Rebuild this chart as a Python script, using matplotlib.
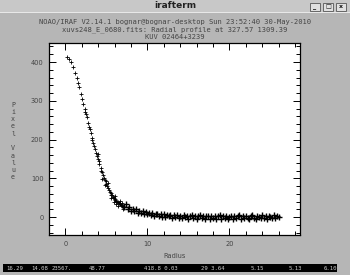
import matplotlib
matplotlib.use("Agg")
import matplotlib.pyplot as plt
from matplotlib.patches import Rectangle
from matplotlib.ticker import MultipleLocator

W, H = 350, 275

# radial profile, core part (radius, pixel value)
core_r = [0.17, 0.45, 0.7, 0.95, 1.2, 1.4, 1.55, 1.7, 1.9, 2.05, 2.2, 2.35, 2.5, 2.6,
          2.75, 2.9, 3.0, 3.1, 3.25, 3.4, 3.5, 3.6, 3.75, 3.85, 3.95, 4.05, 4.15, 4.3,
          4.4, 4.5, 4.6, 4.7, 4.8, 4.9, 5.0, 5.1, 5.2, 5.3, 5.4, 5.5, 5.6, 5.7, 5.8,
          5.9, 6.0, 6.1, 6.2, 6.3, 6.4, 6.5, 6.6, 6.7, 6.8, 6.9, 7.0,
          4.0, 4.5, 5.2, 5.6, 6.0, 6.2, 6.6, 7.0, 3.3, 2.4, 4.8, 5.9, 6.4, 6.9]
core_v = [414, 408, 400, 388, 372, 358, 346, 335, 318, 305, 292, 280, 266, 258,
          244, 232, 226, 216, 205, 190, 184, 175, 166, 158, 150, 144, 136, 128,
          120, 116, 108, 102, 96, 92, 86, 80, 76, 70, 66, 62, 58, 56, 52,
          50, 46, 44, 42, 40, 38, 36, 34, 33, 31, 30, 28,
          162, 98, 88, 50, 55, 35, 42, 22, 198, 272, 82, 38, 30, 36]

# radial profile, outer part
tail_r = [7.2, 7.4, 7.6, 7.8, 8.0, 8.2, 8.4, 8.6, 8.8, 9.0, 9.2, 9.4, 9.6, 9.8,
          10.0, 10.2, 10.4, 10.6, 10.8, 11.0, 11.2, 11.4, 11.6, 11.8, 12.0, 12.2,
          12.4, 12.6, 12.8, 13.0, 13.2, 13.4, 13.6, 13.8, 14.0, 14.2, 14.4, 14.6,
          14.8, 15.0, 15.2, 15.4, 15.6, 15.8, 16.0, 16.2, 16.4, 16.6, 16.8, 17.0,
          17.2, 17.4, 17.6, 17.8, 18.0, 18.2, 18.4, 18.6, 18.8, 19.0, 19.2, 19.4,
          19.6, 19.8, 20.0, 20.2, 20.4, 20.6, 20.8, 21.0, 21.2, 21.4, 21.6, 21.8,
          22.0, 22.2, 22.4, 22.6, 22.8, 23.0, 23.2, 23.4, 23.6, 23.8, 24.0, 24.2,
          24.4, 24.6, 24.8, 25.0, 25.2, 25.4, 25.6, 25.8, 26.0]
tail_v = [27, 33, 21, 26, 17, 22, 15, 20, 12, 17, 10, 15, 8, 13,
          7, 12, 5, 10, 4, 9, 7, 2, 8, 1, 7, 0,
          6, 2, 5, -1, 5, 1, 6, -2, 4, -3, 5, 0,
          4, -4, 3, 5, -2, 4, -4, 3, 6, -3, 3, -5,
          2, 4, -4, 3, -3, 4, -5, 2, 5, -4, 2, -3,
          4, -5, 0, 3, -4, 4, -3, 2, 5, -4, 3, -3,
          4, -1, -5, 3, 6, -1, -4, 4, 1, -3, 5, -1,
          3, -4, 4, 1, -3, 5, -1, 3, 1]

header = ["NOAO/IRAF V2.14.1 bognar@bognar-desktop Sun 23:52:40 30-May-2010",
          "xuvs248_E_0680.fits: Radial profile at 327.57 1309.39",
          "KUV 02464+3239"]
status = ["16.29", "14.08", "23567.", "48.77", "418.8 0.03", "29 3.64", "5.15", "5.13", "6.10"]
status_x = [15, 40, 62, 97, 161, 213, 257, 295, 330]

fig = plt.figure(figsize=(W / 100, H / 100), dpi=100)
fig.patch.set_facecolor("#b6b6b6")

def fx(x):
    return x / W

def fy(y):
    return 1 - y / H

# window title bar
fig.patches.append(Rectangle((0, fy(12)), 1, 12 / H, transform=fig.transFigure,
                             facecolor="#c8c8c8", edgecolor="none"))
fig.patches.append(Rectangle((0, fy(13)), 1, 1 / H, transform=fig.transFigure,
                             facecolor="#e8e8e8", edgecolor="none"))
fig.text(0.5, fy(6), "irafterm", ha="center", va="center", fontsize=6.5,
         fontweight="bold", color="#222222")
for bx, g in zip([310, 323, 336], ["_", "\u25a1", "x"]):
    fig.patches.append(Rectangle((fx(bx), fy(11)), 10 / W, 8 / H, transform=fig.transFigure,
                                 facecolor="#e0e0e0", edgecolor="#555555", lw=0.6))
    fig.text(fx(bx + 5), fy(7), g, ha="center", va="center", fontsize=4.5,
             fontweight="bold", color="#111111")

for i, line in enumerate(header):
    fig.text(0.5, fy(22 + 7.5 * i), line, ha="center", va="center",
             fontsize=5.1, color="#444444", family="DejaVu Sans Mono")

ax = fig.add_axes([fx(49), fy(235), (300 - 49) / W, (235 - 43) / H])
ax.set_facecolor("white")
ax.plot(core_r, core_v, "+", color="black", ms=2.6, mew=0.6)
ax.plot(tail_r, tail_v, "+", color="black", ms=4.2, mew=1.0)
ax.set_xlim(-2, 28.6)
ax.set_ylim(-46, 449)
ax.xaxis.set_major_locator(MultipleLocator(10))
ax.xaxis.set_minor_locator(MultipleLocator(2))
ax.yaxis.set_major_locator(MultipleLocator(100))
ax.yaxis.set_minor_locator(MultipleLocator(20))
ax.tick_params(which="both", direction="in", top=True, right=True, width=0.7,
               labelsize=4.8, labelcolor="#444444", pad=4)
ax.tick_params(which="major", length=5)
ax.tick_params(which="minor", length=3)
for s in ax.spines.values():
    s.set_linewidth(0.9)

fig.text(fx(175), fy(256), "Radius", ha="center", va="center", fontsize=4.8,
         color="#444444")
fig.text(fx(13), fy(141), "\n".join("Pixel Value"), ha="center", va="center",
         fontsize=4.8, color="#444444", linespacing=1.25, family="DejaVu Sans Mono")

# status line
fig.patches.append(Rectangle((fx(3), fy(272)), 334 / W, 8 / H, transform=fig.transFigure,
                             facecolor="black", edgecolor="none"))
for sx, t in zip(status_x, status):
    fig.text(fx(sx), fy(268), t, ha="center", va="center", fontsize=4.1,
             color="#d0d0d0", family="DejaVu Sans Mono")

fig.savefig("out.png", dpi=100, facecolor=fig.get_facecolor())
